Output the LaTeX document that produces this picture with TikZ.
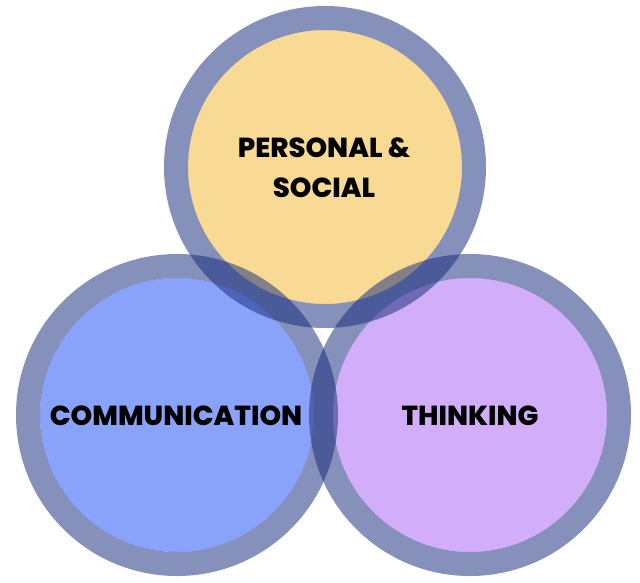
\documentclass[tikz,border=0pt]{standalone}
\usepackage{fontspec}
\setmainfont{Poppins}[BoldFont={* ExtraBold}]
\definecolor{ringc}{RGB}{22,44,125}
\definecolor{fillY}{RGB}{249,218,148}
\definecolor{fillB}{RGB}{138,163,250}
\definecolor{fillP}{RGB}{210,174,250}
\tikzset{
  disc/.style={fill=#1, draw=none},
  ring/.style={draw=ringc, draw opacity=0.52, line width=24pt},
  lbl/.style={font=\fontsize{27.5}{40}\selectfont\bfseries, text=black, align=center}
}
\begin{document}
\begin{tikzpicture}[x=1pt,y=-1pt]
\useasboundingbox (0,0) rectangle (640,582);
\fill[white] (0,0) rectangle (640,582);
\coordinate (T) at (325,167);
\coordinate (L) at (177,415);
\coordinate (R) at (470,415);
\fill[disc=fillY] (T) circle[radius=137];
\fill[disc=fillB] (L) circle[radius=137];
\fill[disc=fillP] (R) circle[radius=137];
\draw[ring] (T) circle[radius=149];
\draw[ring] (L) circle[radius=149];
\draw[ring] (R) circle[radius=149];
\node[lbl] (ps) at (324,168) {PERSONAL \&\\SOCIAL};
\node[lbl] (cm) at (176,416) {COMMUNICATION};
\node[lbl] (th) at (470,416) {THINKING};
\end{tikzpicture}
\end{document}
